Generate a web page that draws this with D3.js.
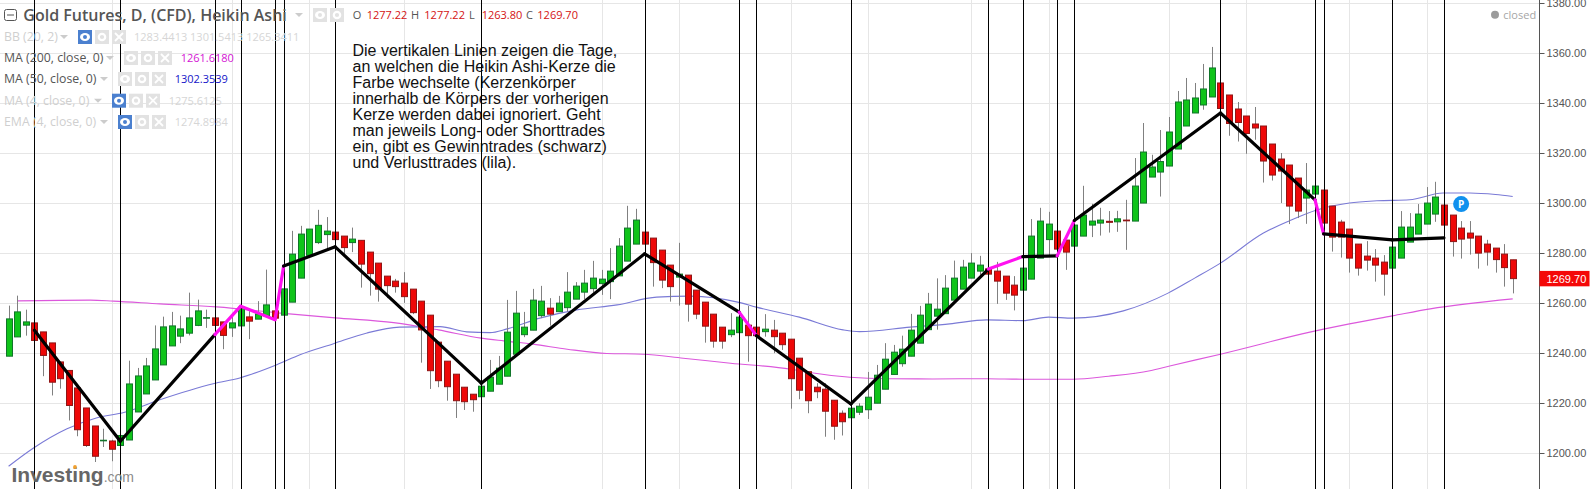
<!DOCTYPE html>
<html><head><meta charset="utf-8">
<script src="https://cdn.jsdelivr.net/npm/d3@7/dist/d3.min.js"></script>
<style>html,body{margin:0;padding:0;background:#fff;overflow:hidden}svg{display:block}</style>
</head><body><svg id="c" width="1593" height="489"></svg>
<script>
const opens=[1238.7,1246.4,1251.1,1252,1248.4,1244,1236.4,1233,1226,1218,
1210.8,1204.9,1204.8,1203,1205.2,1216.4,1223.6,1229.2,1235.2,1242.8,
1246.7,1247.9,1251,1253.9,1254,1252.4,1250,1250.8,1254.4,1253.5,
1254.8,1256.8,1255.1,1260.3,1269.9,1279,1284.1,1287.3,1288.3,1286.7,
1284.1,1285,1280.3,1275.9,1270.7,1268.7,1267.9,1265.5,1260.7,1255.1,
1244.3,1236.7,1231.5,1226.3,1223.5,1222.5,1224.7,1227.5,1230.7,1239.5,
1247.3,1249.1,1254.9,1257.9,1256.5,1258.1,1261.5,1264.3,1265.7,1267.7,
1268.5,1270.8,1276.7,1283.5,1288.3,1285.9,1281.1,1275.1,1270.3,1271.1,
1265.1,1260.3,1255.5,1250.3,1247.3,1248.1,1251.1,1250.3,1248.5,1249.1,
1247.9,1245.5,1237.9,1232.5,1226.3,1225.5,1221.1,1215.9,1214.1,1216.3,
1217.3,1219.9,1225.5,1231.4,1235.7,1238.7,1243.9,1249.3,1254.7,1255.7,
1261.1,1265.5,1269.9,1272.7,1273.6,1272.7,1270.7,1267.1,1265.1,1269.5,
1277.9,1285.3,1288.7,1285.1,1282.7,1286.7,1291.1,1291.9,1292.6,1292.4,
1293.1,1292.7,1299.9,1310.3,1312.3,1314.7,1321.5,1330.7,1335.9,1339.1,
1342.3,1347.9,1343.1,1337.5,1334.7,1331.5,1330.7,1323.5,1317.5,1315.1,
1309.9,1301.9,1303.5,1305.1,1298.7,1292.3,1289.5,1283.5,1278.7,1277.9,
1276.3,1273.9,1277.9,1284.3,1287.5,1291.5,1295.5,1299.1,1295.1,1289.9,
1287.9,1286.7,1283.5,1281.9,1279.5,1277.22];
const closes=[1253.6,1256.4,1252.4,1245,1239,1228.3,1229.7,1219,1209.3,1203,
1198.7,1205.1,1201.5,1207,1227.6,1230.8,1234.8,1241.6,1250.4,1250.8,
1249.6,1254,1256.8,1254.1,1251,1247,1252,1258.3,1252.7,1255.6,
1259.2,1253.9,1265.6,1279.5,1287.5,1289.5,1291,1288.7,1285.3,1282.1,
1285.5,1275.5,1271.7,1265.5,1266.9,1266.5,1262.5,1256.1,1249.2,1232.9,
1228.9,1226.5,1220.9,1220.5,1221.3,1226.7,1230.3,1233.9,1248.3,1255.9,
1250.3,1261.1,1260.7,1255.5,1259.9,1264.3,1266.7,1267.9,1269.9,1269.5,
1272.7,1282.7,1289.9,1293.1,1283.5,1276.1,1269.1,1266.5,1271.5,1259.5,
1255.5,1250.7,1244.7,1244.7,1249.1,1254.3,1246.9,1246.9,1249.5,1246.5,
1243.3,1229.7,1225.1,1220.9,1224.5,1216.7,1210.7,1212.5,1217.9,1218.7,
1222.3,1231.1,1237.5,1240.3,1241.5,1249.1,1255.1,1259.5,1257.5,1265.9,
1269.9,1274.3,1275.9,1275.1,1271.5,1268.7,1263.9,1263.1,1273.9,1286.7,
1292.7,1291.5,1281.5,1280.3,1291.1,1295.1,1292.7,1293.1,1292.2,1293.6,
1292.8,1306.7,1320.3,1314.3,1316.5,1328.3,1340.3,1341.1,1341.9,1345.5,
1353.9,1337.7,1331.7,1332.1,1327.7,1329.9,1316.7,1311.1,1312.7,1298.7,
1296.7,1305.1,1306.7,1291.9,1286.3,1286.3,1277.9,1273.9,1277.1,1275.1,
1271.5,1282.3,1290.3,1290.3,1295.5,1299.9,1302.3,1291.1,1284.5,1285.5,
1285.9,1279.9,1280.3,1277.3,1274.1,1269.7];
const highs=[1258.9,1262.9,1257.3,1252,1248.4,1244,1236.4,1233,1226,1218,
1210.8,1209.7,1205.3,1207.3,1236.9,1234,1238,1251,1254.5,1256.4,
1254.9,1264.1,1261.3,1257.3,1254,1252.4,1256,1258.7,1256.7,1260.7,
1273.3,1258,1265.6,1288.8,1290.8,1289.5,1297.2,1294.3,1288.3,1286.7,
1290.1,1285,1280.3,1275.9,1270.7,1269.6,1272.3,1265.5,1260.7,1255.1,
1244.3,1236.7,1231.5,1226.3,1223.5,1226.7,1237.2,1238.8,1261.2,1264.8,
1256.4,1265.6,1266.8,1261.9,1262.8,1272.3,1268.3,1273.2,1276.8,1273.2,
1281.9,1285.9,1298.8,1297.6,1291.5,1285.9,1281.1,1275.1,1284,1271.1,
1265.1,1260.3,1255.5,1250.3,1255.9,1256.5,1258.8,1253.5,1255.5,1253.2,
1247.9,1245.5,1237.9,1232.5,1227.9,1227.9,1221.1,1217,1224.9,1219.9,
1232.4,1235.2,1243.9,1243.2,1246.9,1255.6,1258.8,1264,1269.8,1271.1,
1276.9,1277.2,1279.9,1278.8,1276.9,1276.4,1270.7,1270.7,1285,1293.5,
1298,1296.4,1288.7,1285.1,1296,1306.8,1299.6,1298,1296.7,1296.8,
1301.2,1317.9,1331.9,1319.2,1329.1,1334.3,1344.7,1349.9,1347.9,1355.5,
1362.3,1347.9,1343.1,1340.3,1334.7,1338.3,1330.7,1323.5,1319.9,1315.1,
1309.9,1315.9,1306.7,1305.1,1298.7,1293.2,1289.5,1283.5,1284.7,1281.5,
1279.1,1282.3,1296.7,1295.9,1299.5,1306.3,1308.4,1299.1,1295.1,1292.7,
1292.7,1286.7,1285.2,1281.9,1283.5,1277.22];
const lows=[1238.7,1246.4,1246.9,1245,1230.7,1223,1225.7,1213,1206.7,1202.4,
1196.4,1202.4,1196.7,1203,1205.2,1216.4,1223.6,1229.2,1235.2,1242.8,
1243.9,1247,1250.7,1250,1247.3,1241.5,1246.4,1250.8,1245.5,1253.5,
1254.8,1253.4,1255.1,1260.3,1269.9,1279,1283.5,1281.9,1282.5,1278.5,
1280.3,1266.1,1262.9,1260.5,1261.9,1264.1,1260,1255.5,1236.1,1225.6,
1226.3,1220.9,1214,1217.2,1216.5,1222.5,1224.7,1227.5,1230.7,1239.5,
1246.3,1249.1,1253.9,1250.9,1256.5,1256.5,1261.5,1261.5,1264.1,1263.2,
1261.5,1270.8,1276.7,1283.5,1273.5,1266.5,1265.9,1260.5,1258.9,1252.5,
1253.5,1244.1,1242.1,1241.7,1246.3,1248.1,1236.5,1241.7,1246.5,1239.9,
1241.2,1217.7,1221.5,1215.9,1221.9,1206.5,1205.3,1207,1212.5,1215.2,
1213.6,1219.9,1225.5,1231.4,1234.5,1238.7,1243.9,1249.3,1249.3,1255.7,
1261.1,1265.5,1269.9,1271.2,1261.2,1259.6,1261.2,1257,1265.1,1269.5,
1277.9,1278.8,1272.4,1273.2,1282.7,1286.7,1286.3,1286.9,1288.1,1288.4,
1281.2,1292.7,1299.9,1310.3,1302.5,1314.7,1321.5,1330.7,1335.9,1337.2,
1342.3,1330.8,1326.8,1324.5,1319.6,1325.2,1308.1,1308.9,1299.9,1291.5,
1293.9,1291.6,1303.5,1291.9,1280.5,1278.1,1272.1,1270.9,1272.9,1268.5,
1262.9,1273.9,1277.9,1284.3,1287.5,1291.5,1292.4,1283.5,1278.5,1277.7,
1279.3,1273.7,1274.9,1272.1,1266.5,1263.8];

// Trading-day indexes of the vertical signal lines
const signalDays=[3,13,24,27,31,32,38,55,74,85,87,98,114,118,122,124,141,152,153,161,167];
// Trade legs: [day, price] vertices; "win" black, "loss" magenta
const tradeVertexDays=[3,13,24,27,31,32,38,55,74,85,87,98,114,118,122,124,141,152,153,161,167];
const tradeVertexPrices=[1249.1,1204.7,1247.3,1258.7,1253.3,1274.7,1282.4,1227.9,1279.6,1256.3,1246.9,1219.6,1273.5,1278.5,1278.8,1292.9,1335.9,1301.2,1287.6,1285.2,1286];
const tradeLegResults=["win","win","loss","loss","loss","win","win","win","win","loss","win","win","loss","win","loss","win","win","loss","win","win"];

const ma200Days=[1,9.5,12.2,17.6,24.2,32,38,44.8,50,55,57.6,61,65,69.6,73.8,78.5,84,91,93,97.9,102.5,107.5,113.8,118,123.8,128,132.8,135.1,141,151.4,153,156,161,165.4,175];
const ma200Vals=[1260.8,1261.1,1260.7,1259.6,1258.4,1255.8,1254,1252.1,1249.2,1245.9,1244.8,1243.5,1241.5,1239.8,1239.5,1237.9,1235.9,1233.5,1232.3,1230.3,1229.7,1229.6,1229.7,1229.5,1229.5,1230.7,1232.9,1234.8,1239.5,1248.3,1249.5,1251.6,1254.8,1257.6,1261.6];
const ma50Days=[0,2.9,6.8,10.2,13.5,17.6,23.8,26.9,31.2,33.9,37.8,41.7,45.5,50.2,53.3,56,58,61.8,66.1,70.8,75.4,79.3,85.1,87,92,97.1,99,104.9,109.5,113.8,118,121,123.8,129.7,134.9,138,141,146,149.1,152.2,156,159.2,163,166.9,170,173,175];
const ma50Vals=[1194.7,1202,1209.7,1214,1216.3,1221.3,1227.7,1230,1235.3,1239.3,1243.7,1248,1250.3,1250.5,1248.4,1248.1,1249.6,1253.9,1257.2,1259.2,1262.3,1262.7,1260.1,1258.3,1254.3,1249.2,1248.5,1250.3,1251.6,1253.2,1252.9,1254.3,1253.9,1256.8,1263.9,1269.9,1275.9,1287.9,1292.9,1297.1,1299.9,1300.8,1301.2,1303.9,1303.9,1303.3,1302.5];

const priceTicks=[1200,1220,1240,1260,1280,1300,1320,1340,1360,1380];
const timeGridDays=[12,26,35,46,69,78,91,100,112,121,135,144,156,165];

const annotation=["Die vertikalen Linien zeigen die Tage,","an welchen die Heikin Ashi-Kerze die","Farbe wechselte (Kerzenkörper","innerhalb de Körpers der vorherigen","Kerze werden dabei ignoriert. Geht","man jeweils Long- oder Shorttrades","ein, gibt es Gewinntrades (schwarz)","und Verlusttrades (lila)."];
const title="Gold Futures, D, (CFD), Heikin Ashi";
const ohlcLabels=["O","H","L","C"];
const ohlcValues=["1277.22","1277.22","1263.80","1269.70"];
const legendNames=["BB (20, 2)","MA (200, close, 0)","MA (50, close, 0)","MA (4, close, 0)","EMA (4, close, 0)"];
const legendValues=["1283.4413 1301.5413 1265.3411","1261.6180","1302.3539","1275.6125","1274.8984"];

const svg=d3.select("#c");
const FONT='"Open Sans","DejaVu Sans",sans-serif';
const x=d3.scaleLinear().domain([0,175]).range([8.6,1512.7]);
const y=d3.scaleLinear().domain([1200,1360]).range([453,52.7]);
const AX=1539.5;
const px=v=>Math.round(v)+0.5;

// grid
const grid=svg.append("g").attr("stroke","#e6e6e6").attr("stroke-width",1);
grid.selectAll("line.h").data(priceTicks).join("line").attr("x1",0).attr("x2",AX)
 .attr("y1",d=>px(y(d))).attr("y2",d=>px(y(d)));
grid.selectAll("line.v").data(timeGridDays).join("line")
 .attr("x1",d=>px(x(d))).attr("x2",d=>px(x(d))).attr("y1",0).attr("y2",489);

// annotation
svg.append("g").selectAll("text").data(annotation).join("text")
 .attr("x",352.5).attr("y",(d,i)=>56+i*16).attr("font-family",'"Liberation Sans",Arial,sans-serif')
 .attr("font-size",16).attr("fill","#111").text(d=>d);

// moving averages
const maLine=d3.line().x(d=>x(d[0])).y(d=>y(d[1])).curve(d3.curveMonotoneX);
svg.append("path").attr("d",maLine(ma200Days.map((d,i)=>[d,ma200Vals[i]])))
 .attr("fill","none").attr("stroke","#dc58dc").attr("stroke-width",1.1);
svg.append("path").attr("d",maLine(ma50Days.map((d,i)=>[d,ma50Vals[i]])))
 .attr("fill","none").attr("stroke","#7a7ad6").attr("stroke-width",1.1);

// candles
const idx=d3.range(opens.length);
const w=6;
const cg=svg.append("g");
cg.selectAll("line").data(idx).join("line")
 .attr("x1",i=>Math.round(x(i))+0.5).attr("x2",i=>Math.round(x(i))+0.5)
 .attr("y1",i=>y(highs[i])).attr("y2",i=>y(lows[i])).attr("stroke","#808080").attr("stroke-width",1);
const up=i=>closes[i]>=opens[i];
cg.selectAll("rect").data(idx).join("rect")
 .attr("x",i=>Math.round(x(i))-w/2+0.5).attr("width",w)
 .attr("y",i=>y(Math.max(opens[i],closes[i])))
 .attr("height",i=>Math.max(0.6,Math.abs(y(opens[i])-y(closes[i]))))
 .attr("fill",i=>up(i)?"#0fc41a":"#ee0808")
 .attr("stroke",i=>up(i)?"#11752a":"#8f1515").attr("stroke-width",1);

// vertical signal lines
svg.append("g").selectAll("line").data(signalDays).join("line")
 .attr("x1",d=>px(x(d))).attr("x2",d=>px(x(d))).attr("y1",0).attr("y2",489)
 .attr("stroke","#000").attr("stroke-width",1);

// trade legs
const legs=svg.append("g").attr("fill","none").attr("stroke-width",3.2).attr("stroke-linecap","round");
tradeLegResults.forEach((r,i)=>{
 legs.append("line")
  .attr("x1",x(tradeVertexDays[i])).attr("y1",y(tradeVertexPrices[i]))
  .attr("x2",x(tradeVertexDays[i+1])).attr("y2",y(tradeVertexPrices[i+1]))
  .attr("stroke",r==="win"?"#000":"#ff10f0");
});

// pill P
const pd=svg.append("g");
pd.append("circle").attr("cx",x(169)).attr("cy",y(1299.5)).attr("r",8).attr("fill","#1090ee");
pd.append("text").attr("x",x(169)).attr("y",y(1299.5)+3.5).attr("text-anchor","middle")
 .attr("font-family",FONT).attr("font-size",10).attr("font-weight",700).attr("fill","#fff").text("P");

// axis
const ax=svg.append("g");
ax.append("rect").attr("x",AX).attr("y",0).attr("width",60).attr("height",489).attr("fill","#fff");
ax.append("line").attr("x1",AX).attr("x2",AX).attr("y1",0).attr("y2",489).attr("stroke","#555");
ax.selectAll("line.t").data(priceTicks).join("line").attr("x1",AX).attr("x2",AX+5)
 .attr("y1",d=>px(y(d))).attr("y2",d=>px(y(d))).attr("stroke","#555");
ax.selectAll("text").data(priceTicks).join("text").attr("x",1546.5).attr("y",d=>y(d)+4)
 .attr("font-family",'"Liberation Sans",Arial,sans-serif').attr("font-size",11).attr("fill","#555")
 .text(d=>d3.format(".2f")(d));
// last price
const lp=closes[closes.length-1];
ax.append("rect").attr("x",AX).attr("y",y(lp)-7.7).attr("width",50).attr("height",15.4).attr("fill","#f40808");
ax.append("text").attr("x",1546.5).attr("y",y(lp)+4).attr("font-family",'"Liberation Sans",Arial,sans-serif')
 .attr("font-size",11).attr("fill","#fff").text(d3.format(".2f")(lp));

// closed flag
svg.append("circle").attr("cx",1495).attr("cy",14.7).attr("r",4).attr("fill","#9b9b9b");
svg.append("text").attr("x",1503.3).attr("y",18.5).attr("font-family",FONT).attr("font-size",11).attr("fill","#a6a6a6").text("closed");

// legend
const lg=svg.append("g").attr("font-family",FONT);
lg.append("rect").attr("x",4.5).attr("y",9.5).attr("width",12).attr("height",11).attr("rx",2).attr("fill","none").attr("stroke","#555");
lg.append("line").attr("x1",7).attr("x2",14).attr("y1",15).attr("y2",15).attr("stroke","#555");
lg.append("text").attr("x",23.3).attr("y",20.5).attr("font-size",16).attr("font-weight",600).attr("fill","#555").text(title);
function arrow(cx,cy,c){lg.append("path").attr("d",`M${cx-4},${cy-2}L${cx+4},${cy-2}L${cx},${cy+2}Z`).attr("fill",c);}
function btn(bx,by,kind,on){
 lg.append("rect").attr("x",bx).attr("y",by-7).attr("width",14).attr("height",14).attr("fill",on?"#4b80cf":"#e2e2e2");
 const c=bx+7;
 if(kind===0){
  lg.append("ellipse").attr("cx",c).attr("cy",by).attr("rx",5).attr("ry",4).attr("fill","#fff");
  lg.append("circle").attr("cx",c).attr("cy",by).attr("r",2).attr("fill",on?"#4b80cf":"#e2e2e2");
 }else if(kind===1){
  lg.append("circle").attr("cx",c).attr("cy",by).attr("r",3.2).attr("fill","none").attr("stroke","#fff").attr("stroke-width",2.2);
 }else{
  lg.append("path").attr("d",`M${c-4},${by-4}L${c+4},${by+4}M${c+4},${by-4}L${c-4},${by+4}`).attr("stroke","#fff").attr("stroke-width",1.8);
 }
}
arrow(299,15,"#ccc");btn(313,15,0,false);btn(330,15,1,false);
ohlcLabels.forEach((t,i)=>{
 const lx=[352.7,411,469,526][i],vx=[366.7,424.3,481.7,537.3][i];
 lg.append("text").attr("x",lx).attr("y",19).attr("font-size",11).attr("fill","#555").text(t);
 lg.append("text").attr("x",vx).attr("y",19).attr("font-size",11).attr("fill","#d41212").text(ohlcValues[i]);
});
const rowY=[37,58,79,100.7,122];
const nameCol=["#cfcfcf","#555","#555","#cfcfcf","#cfcfcf"];
const valCol=["#d6d6d6","#d414d4","#1414c8","#d6d6d6","#d6d6d6"];
const arrowX=[64,110,104,98,104];
const btnX=[78,124,118,112,118];
const valX=[134,180.7,174.7,168.7,174.7];
const activeBtn=[true,false,false,true,true];
legendNames.forEach((n,i)=>{
 const ry=rowY[i];
 lg.append("text").attr("x",4).attr("y",ry+4).attr("font-size",12.3).attr("fill",nameCol[i]).text(n);
 arrow(arrowX[i],ry,"#ccc");
 btn(btnX[i],ry,0,activeBtn[i]);btn(btnX[i]+17,ry,1,false);btn(btnX[i]+34,ry,2,false);
 lg.append("text").attr("x",valX[i]).attr("y",ry+4).attr("font-size",11).attr("fill",valCol[i]).text(legendValues[i]);
});

// logo
const lo=svg.append("text").attr("x",11.5).attr("y",482).attr("font-family",'"Liberation Sans",Arial,sans-serif');
lo.append("tspan").attr("font-size",21).attr("font-weight",700).attr("fill","#666").text("Investing");
lo.append("tspan").attr("font-size",14).attr("fill","#8a8a8a").text(".com");
svg.append("circle").attr("cx",75).attr("cy",467).attr("r",1.9).attr("fill","#f0a030");
</script></body></html>
